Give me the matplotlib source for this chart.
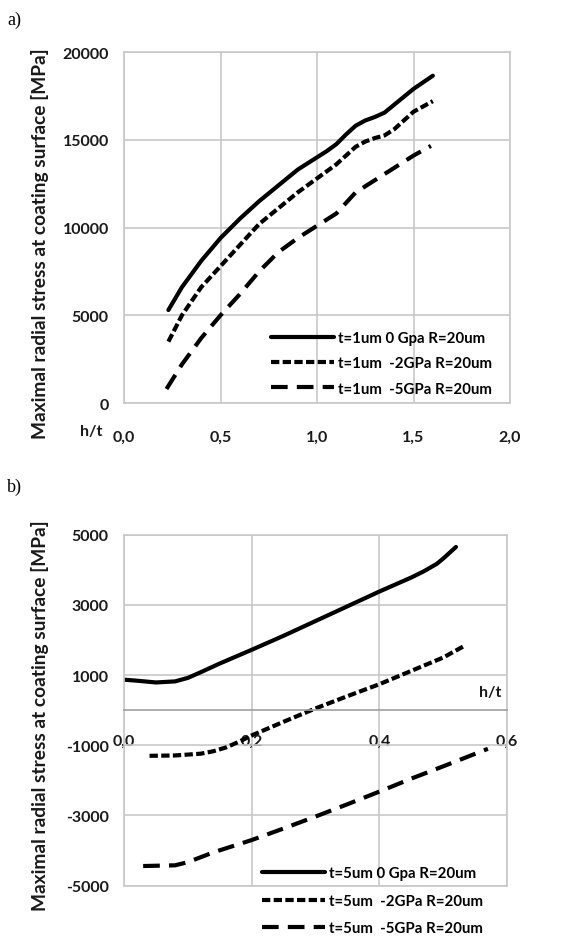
import matplotlib
matplotlib.use("Agg")
import matplotlib.pyplot as plt
from matplotlib.ticker import FuncFormatter, MultipleLocator
import numpy as np

# panel a) t = 1um
xa_0 = [0.23, 0.3, 0.4, 0.5, 0.6, 0.7, 0.8, 0.9, 1.0, 1.05, 1.1, 1.15, 1.2, 1.25, 1.3, 1.35, 1.4, 1.5, 1.6]
ya_0 = [5300, 6600, 8100, 9400, 10500, 11500, 12400, 13300, 14000, 14350, 14750, 15300, 15800, 16100, 16300, 16550, 17000, 17900, 18650]
xa_2 = [0.23, 0.3, 0.4, 0.5, 0.6, 0.7, 0.8, 0.9, 1.0, 1.1, 1.2, 1.25, 1.3, 1.35, 1.4, 1.5, 1.6]
ya_2 = [3500, 5000, 6600, 7800, 9000, 10200, 11100, 12000, 12800, 13600, 14600, 14900, 15100, 15250, 15600, 16600, 17200]
xa_5 = [0.22, 0.3, 0.4, 0.5, 0.6, 0.7, 0.8, 0.9, 1.0, 1.1, 1.2, 1.3, 1.4, 1.5, 1.59]
ya_5 = [800, 2200, 3700, 5000, 6200, 7500, 8600, 9400, 10100, 10800, 12000, 12700, 13400, 14100, 14650]
labels_a = ["t=1um 0 Gpa R=20um", "t=1um  -2GPa R=20um", "t=1um  -5GPa R=20um"]

# panel b) t = 5um
xb_0 = [0.0, 0.02, 0.05, 0.08, 0.10, 0.12, 0.15, 0.20, 0.25, 0.30, 0.35, 0.40, 0.45, 0.47, 0.49, 0.50, 0.52]
yb_0 = [870, 840, 790, 820, 920, 1080, 1330, 1720, 2120, 2540, 2960, 3380, 3780, 3960, 4170, 4320, 4650]
xb_2 = [0.04, 0.08, 0.12, 0.14, 0.16, 0.18, 0.20, 0.25, 0.30, 0.35, 0.40, 0.45, 0.50, 0.535]
yb_2 = [-1300, -1290, -1240, -1170, -1060, -900, -720, -330, 50, 400, 740, 1120, 1500, 1850]
xb_5 = [0.03, 0.08, 0.10, 0.14, 0.20, 0.25, 0.30, 0.35, 0.40, 0.45, 0.50, 0.57]
yb_5 = [-4440, -4420, -4330, -4050, -3700, -3370, -3030, -2680, -2320, -1950, -1600, -1100]
labels_b = ["t=5um 0 Gpa R=20um", "t=5um  -2GPa R=20um", "t=5um  -5GPa R=20um"]

ylabel = "Maximal radial stress at coating surface [MPa]"

plt.rcParams["font.family"] = ["Lato", "DejaVu Sans"]
plt.rcParams["font.weight"] = "bold"
plt.rcParams["axes.unicode_minus"] = False
grid_c = "#c8c8c8"
txt_c = "#1a1a1a"
lw = 3.0
short = (2.0, 0.8)
long_ = (4.0, 2.2)
fs = 11.5
lfs = 10.8

fig = plt.figure(figsize=(5.88, 9.37), dpi=100)
ax_a = fig.add_axes([0.2109, 0.5688, 0.6565, 0.3746])
ax_b = fig.add_axes([0.2109, 0.0537, 0.6514, 0.3746])

comma = FuncFormatter(lambda v, p: f"{v:.1f}".replace(".", ","))

# ---- a)
ax_a.plot(xa_0, ya_0, color="black", lw=lw, solid_capstyle="round", label=labels_a[0])
ax_a.plot(xa_2, ya_2, color="black", lw=lw, dashes=short, label=labels_a[1])
ax_a.plot(xa_5, ya_5, color="black", lw=lw, dashes=long_, label=labels_a[2])
ax_a.set_xlim(0, 2.0)
ax_a.set_ylim(0, 20000)
ax_a.xaxis.set_major_locator(MultipleLocator(0.5))
ax_a.yaxis.set_major_locator(MultipleLocator(5000))
ax_a.xaxis.set_major_formatter(comma)
ax_a.grid(True, color=grid_c, lw=1.2)
ax_a.set_axisbelow(True)
for s in ax_a.spines.values():
    s.set_color(grid_c)
    s.set_linewidth(1.2)
ax_a.tick_params(axis="both", length=0, labelsize=fs, colors=txt_c)
ax_a.tick_params(axis="x", pad=19)
ax_a.tick_params(axis="y", pad=11)
ax_a.text(-0.085, -0.08, "h/t", transform=ax_a.transAxes, fontsize=fs,
          color=txt_c, ha="center", va="center")
ax_a.legend(loc="upper left", bbox_to_anchor=(0.38, 0.205), frameon=False,
            fontsize=lfs, handlelength=4.2, handletextpad=0.3,
            labelspacing=0.75, borderpad=0, borderaxespad=0)
fig.text(0.068, 0.740, ylabel, rotation=90, ha="center", va="center",
         fontsize=13.8, fontweight="bold", color=txt_c)
fig.text(0.012, 0.978, "a)", family="Liberation Serif", fontweight="normal",
         fontsize=13, va="center")

# ---- b)
ax_b.plot(xb_0, yb_0, color="black", lw=lw, solid_capstyle="round", label=labels_b[0])
ax_b.plot(xb_2, yb_2, color="black", lw=lw, dashes=short, label=labels_b[1])
ax_b.plot(xb_5, yb_5, color="black", lw=lw, dashes=long_, label=labels_b[2])
ax_b.set_xlim(0, 0.6)
ax_b.set_ylim(-5000, 5000)
ax_b.xaxis.set_major_locator(MultipleLocator(0.2))
ax_b.set_yticks(np.arange(-5000, 5001, 2000))
ax_b.xaxis.set_major_formatter(comma)
ax_b.grid(True, color=grid_c, lw=1.2)
ax_b.set_axisbelow(True)
for s in ax_b.spines.values():
    s.set_color(grid_c)
    s.set_linewidth(1.2)
ax_b.spines["bottom"].set_position(("data", 0))
ax_b.spines["bottom"].set_color("#a0a0a0")
ax_b.axhline(-5000, color=grid_c, lw=1.2, clip_on=False, zorder=0.5)
ax_b.tick_params(axis="both", length=0, labelsize=fs, colors=txt_c)
ax_b.tick_params(axis="x", pad=17)
ax_b.tick_params(axis="y", pad=11)
ax_b.text(0.955, 330, "h/t", transform=ax_b.get_yaxis_transform(), fontsize=fs,
          color=txt_c, ha="center", va="bottom")
ax_b.legend(loc="upper left", bbox_to_anchor=(0.36, 0.055), frameon=False,
            fontsize=lfs, handlelength=4.2, handletextpad=0.3,
            labelspacing=0.9, borderpad=0, borderaxespad=0)
fig.text(0.068, 0.236, ylabel, rotation=90, ha="center", va="center",
         fontsize=13.8, fontweight="bold", color=txt_c)
fig.text(0.012, 0.480, "b)", family="Liberation Serif", fontweight="normal",
         fontsize=13, va="center")

fig.savefig("out.png", dpi=100)
